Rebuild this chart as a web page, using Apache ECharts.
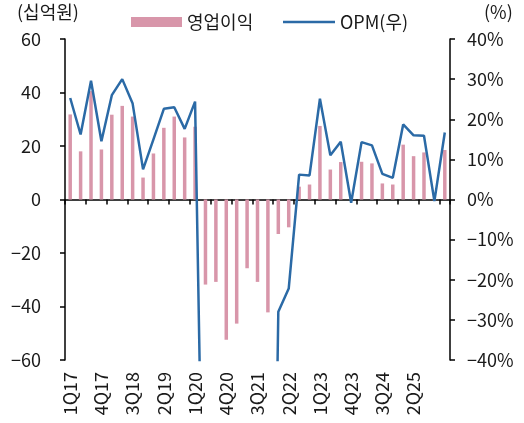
<!DOCTYPE html>
<html>
<head>
<meta charset="utf-8">
<script src="https://cdn.jsdelivr.net/npm/echarts@6/dist/echarts.min.js"></script>
<style>
  html, body { margin: 0; padding: 0; background: #fff; }
  #chart { width: 524px; height: 423px; }
</style>
</head>
<body>
<div id="chart"></div>
<script>
  // 분기
  const quarters = [
    '1Q17', '2Q17', '3Q17', '4Q17', '1Q18', '2Q18', '3Q18', '4Q18',
    '1Q19', '2Q19', '3Q19', '4Q19', '1Q20', '2Q20', '3Q20', '4Q20',
    '1Q21', '2Q21', '3Q21', '4Q21', '1Q22', '2Q22', '3Q22', '4Q22',
    '1Q23', '2Q23', '3Q23', '4Q23', '1Q24', '2Q24', '3Q24', '4Q24',
    '1Q25', '2Q25', '3Q25', '4Q25', '1Q26'
  ]
  // 영업이익 (십억원)
  const profit = [
    31.8, 18.0, 40.5, 18.7, 31.7, 35.0, 31.0, 8.2,
    17.2, 26.8, 31.0, 23.2, 27.2, -31.8, -30.8, -52.4,
    -46.4, -25.7, -30.8, -42.2, -12.9, -10.4, 4.8, 5.6,
    27.5, 11.2, 14.0, 0.2, 14.1, 13.5, 6.0, 5.6,
    20.5, 16.2, 17.6, -0.3, 18.5
  ]
  // OPM (%), 2Q20~4Q21 구간은 축 아래로 벗어남
  const opm = [
    25.3, 16.2, 29.6, 14.5, 26.0, 30.0, 23.9, 7.5,
    15.0, 22.6, 23.0, 17.6, 24.4, -124, -110, -200,
    -180, -95, -130, -203, -28.0, -22.2, 6.2, 6.0,
    25.1, 11.0, 14.4, -0.8, 14.3, 13.5, 6.4, 5.4,
    18.7, 16.0, 15.9, -0.4, 16.7
  ]
  const leftTicks = [-60, 60, 20]
  const rightTicks = [-40, 40, 10]

  const font = 'Noto Sans CJK KR'
  const txt = '#1a1a1a'
  const minus = v => String(v).replace('-', '−')
  const legendText = { fontSize: 18, color: txt, fontFamily: font }

  const chart = echarts.init(document.getElementById('chart'))
  const option = {
    animation: false,
    textStyle: { fontFamily: font },
    grid: { left: 65, right: 74, top: 39, bottom: 63 },
    legend: [
      {
        left: 126,
        top: 8,
        itemWidth: 51,
        itemHeight: 10,
        textStyle: legendText,
        data: [{ name: '영업이익', icon: 'rect' }]
      },
      {
        left: 278,
        top: 8,
        itemWidth: 52,
        itemHeight: 2.5,
        textStyle: legendText,
        data: [{ name: 'OPM(우)', icon: 'rect' }]
      }
    ],
    graphic: [
      { type: 'text', left: 17, top: 3, style: { text: '(십억원)', font: '18px "Noto Sans CJK KR"', fill: txt } },
      { type: 'text', left: 484, top: 3, style: { text: '(%)', font: '18px "Noto Sans CJK KR"', fill: txt } }
    ],
    xAxis: [
      {
        type: 'category',
        data: quarters,
        position: 'bottom',
        axisLine: { show: false, onZero: false },
        axisTick: { show: false },
        axisLabel: {
          // 3분기 간격, 마지막 분기 라벨은 없음
          interval: (i) => i % 3 === 0 && i < quarters.length - 1,
          rotate: 90,
          margin: 12,
          fontSize: 18,
          color: txt,
          fontFamily: font
        }
      },
      {
        type: 'category',
        data: quarters,
        position: 'bottom',
        axisLine: { show: true, onZero: true, lineStyle: { color: '#000', width: 1.5 } },
        axisTick: { show: true, interval: 1, length: 5, lineStyle: { color: '#000', width: 1.5 } },
        axisLabel: { show: false }
      }
    ],
    yAxis: [
      {
        type: 'value',
        min: leftTicks[0],
        max: leftTicks[1],
        interval: leftTicks[2],
        splitLine: { show: false },
        axisLine: { show: true, lineStyle: { color: '#000', width: 1.5 } },
        axisTick: { show: true, length: 5, lineStyle: { color: '#000', width: 1.5 } },
        axisLabel: { fontSize: 18, color: txt, margin: 24, fontFamily: font, formatter: v => minus(v) }
      },
      {
        type: 'value',
        min: rightTicks[0],
        max: rightTicks[1],
        interval: rightTicks[2],
        splitLine: { show: false },
        axisLine: { show: true, lineStyle: { color: '#000', width: 1.5 } },
        axisTick: { show: true, length: 5, lineStyle: { color: '#000', width: 1.5 } },
        axisLabel: { fontSize: 18, color: txt, margin: 17, fontFamily: font, formatter: v => minus(v) + '%' }
      }
    ],
    series: [
      {
        name: '영업이익',
        type: 'bar',
        xAxisIndex: 0,
        yAxisIndex: 0,
        data: profit,
        barWidth: 3.5,
        itemStyle: { color: '#d896aa' }
      },
      {
        name: 'OPM(우)',
        type: 'line',
        xAxisIndex: 0,
        yAxisIndex: 1,
        data: opm,
        symbol: 'none',
        clip: true,
        lineStyle: { color: '#2b6aa6', width: 2.5 },
        itemStyle: { color: '#2b6aa6' }
      }
    ]
  }
  chart.setOption(option)
</script>
</body>
</html>
